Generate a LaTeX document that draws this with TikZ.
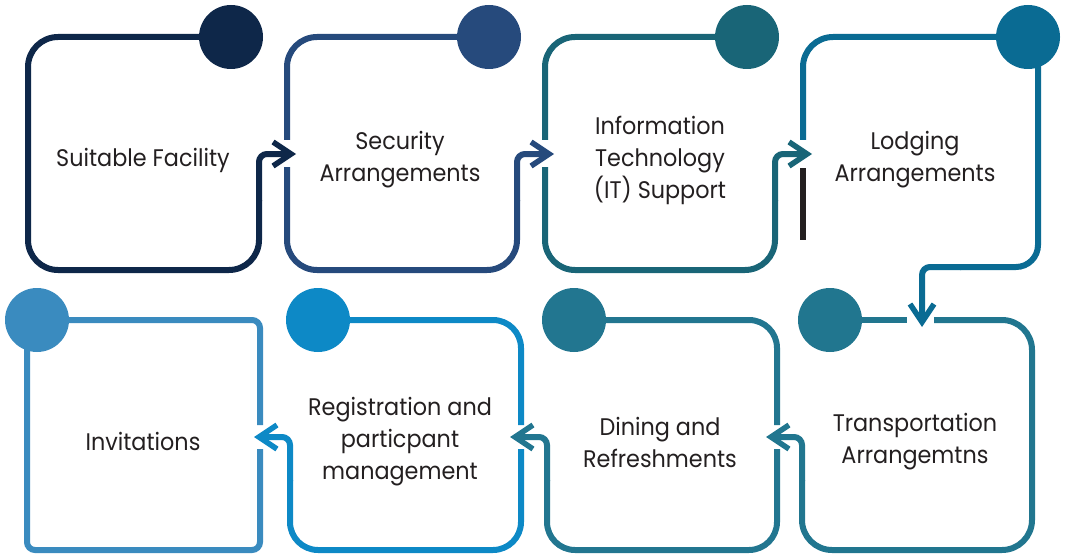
\documentclass[tikz,border=0pt]{standalone}
\usepackage{fontspec}
\setmainfont{Poppins}[FakeStretch=0.93]
\usetikzlibrary{arrows.meta}
\definecolor{cA}{HTML}{0E2749}
\definecolor{cB}{HTML}{264A7C}
\definecolor{cC}{HTML}{196577}
\definecolor{cD}{HTML}{0A6B93}
\definecolor{cE}{HTML}{21768F}
\definecolor{cF}{HTML}{227690}
\definecolor{cG}{HTML}{0D89C6}
\definecolor{cH}{HTML}{3A8BBF}
\definecolor{txt}{HTML}{231F20}
\begin{document}
\begin{tikzpicture}[x=1pt,y=-1pt,
  box/.style={line width=6pt},
  arr/.style={-{Straight Barb[length=18pt,width=24pt,line width=5.5pt]}},
  dot/.style={circle, inner sep=0pt, minimum size=64pt},
  lbl/.style={text=txt, align=center, font=\fontsize{24}{32}\selectfont}]
\useasboundingbox (0,0) rectangle (1065,559);
% Box 1
\draw[box,cA,rounded corners=30pt] (231,37) -- (28,37) -- (28,270) -- (259,270) -- (259,200);
\draw[box,cA,rounded corners=8pt,arr] (259,201) -- (259,154) -- (296,154);
\node[dot,fill=cA] (d1) at (231,37) {};
% Box 2
\draw[box,cB,rounded corners=30pt] (287,140) -- (287,37) -- (489,37);
\draw[box,cB,rounded corners=30pt] (287,167) -- (287,270) -- (517,270) -- (517,200);
\draw[box,cB,rounded corners=8pt,arr] (517,201) -- (517,154) -- (554,154);
\node[dot,fill=cB] (d2) at (489,37) {};
% Box 3
\draw[box,cC,rounded corners=30pt] (545,140) -- (545,37) -- (747,37);
\draw[box,cC,rounded corners=30pt] (545,167) -- (545,270) -- (775,270) -- (775,200);
\draw[box,cC,rounded corners=8pt,arr] (775,201) -- (775,154) -- (812,154);
\node[dot,fill=cC] (d3) at (747,37) {};
% Box 4
\draw[box,cD,rounded corners=30pt] (803,140) -- (803,37) -- (1028,37);
\draw[box,cD,rounded corners=22pt] (1038,37) -- (1038,267) -- (960,267);
\draw[box,cD,rounded corners=8pt,arr] (961,267) -- (922,267) -- (922,327);
\draw[box,txt] (803,168) -- (803,240);
\node[dot,fill=cD] (d4) at (1028,37) {};
% Box 5
\draw[box,cE] (830,320) -- (907,320);
\draw[box,cE,rounded corners=30pt] (934,320) -- (1032,320) -- (1032,550) -- (802,550) -- (802,480);
\draw[box,cE,rounded corners=8pt,arr] (802,481) -- (802,437) -- (766,437);
\node[dot,fill=cE] (d5) at (830,320) {};
% Box 6
\draw[box,cF,rounded corners=28pt] (574,320) -- (777,320) -- (777,425);
\draw[box,cF,rounded corners=28pt] (777,449) -- (777,550) -- (547,550) -- (547,480);
\draw[box,cF,rounded corners=8pt,arr] (547,481) -- (547,437) -- (510,437);
\node[dot,fill=cF] (d6) at (574,320) {};
% Box 7
\draw[box,cG,rounded corners=28pt] (318,320) -- (521,320) -- (521,425);
\draw[box,cG,rounded corners=28pt] (521,449) -- (521,550) -- (290,550) -- (290,480);
\draw[box,cG,rounded corners=8pt,arr] (290,481) -- (290,437) -- (254,437);
\node[dot,fill=cG] (d7) at (318,320) {};
% Box 8
\draw[box,cH,rounded corners=8pt] (37,320) -- (260,320) -- (260,425);
\draw[box,cH,rounded corners=8pt] (260,449) -- (260,550) -- (27,550) -- (27,320);
\node[dot,fill=cH] (d8) at (37,320) {};
% Labels
\node[lbl] (t1) at (143,160) {Suitable Facility};
\node[lbl] (t2) at (400,160) {Security\\Arrangements};
\node[lbl] (t3) at (660,160) {Information\\Technology\\(IT) Support};
\node[lbl] (t4) at (915,160) {Lodging\\Arrangements};
\node[lbl] (t5) at (915,442) {Transportation\\Arrangemtns};
\node[lbl] (t6) at (660,442) {Dining and\\Refreshments};
\node[lbl] (t7) at (400,442) {Registration and\\particpant\\management};
\node[lbl] (t8) at (143,441) {Invitations};
\end{tikzpicture}
\end{document}
